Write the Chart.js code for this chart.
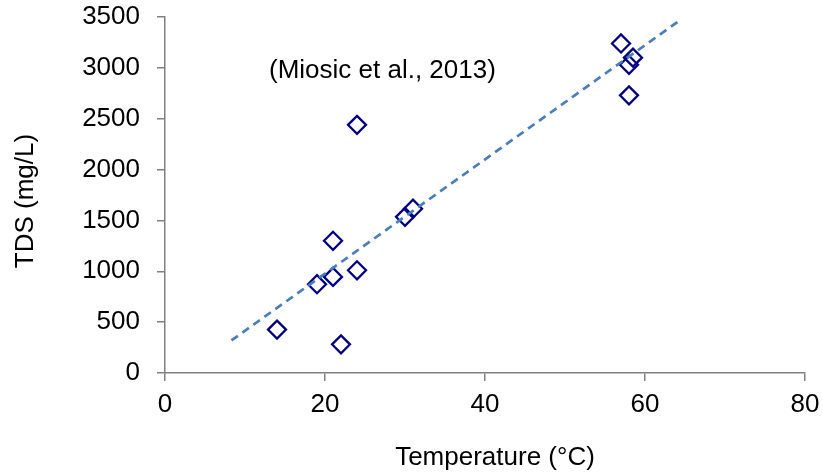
<!DOCTYPE html>
<html>
<head>
<meta charset="utf-8">
<script src="https://cdn.jsdelivr.net/npm/chart.js@4"></script>
<style>
  html, body { margin: 0; padding: 0; background: #fff; }
  #wrap { width: 823px; height: 472px; }
</style>
</head>
<body>
<div id="wrap"><canvas id="myChart" width="823" height="472"></canvas></div>
<script>
// temperature (°C) vs TDS (mg/L) samples
const temperature = [14, 19, 21, 21, 22, 24, 24, 30, 31, 57, 58, 58, 58.5];
const tds = [427, 873, 945, 1300, 282, 1010, 2440, 1535, 1615, 3240, 3030, 2730, 3100];

// linear trend, end points
const trendX = [8.3, 64.4];
const trendY = [320, 3470];

// source note, placed in data units
const noteText = '(Miosic et al., 2013)';
const noteAt = [13, 2900];

const xTitle = 'Temperature (°C)';
const yTitle = 'TDS (mg/L)';

const FONT = '"Liberation Sans", Arial, sans-serif';
const AXIS = '#808080';

const points = temperature.map((t, i) => ({ x: t, y: tds[i] }));
const trend = trendX.map((t, i) => ({ x: t, y: trendY[i] }));

// axis titles + source note
const textPlugin = {
  id: 'texts',
  afterDraw(chart) {
    const c = chart.ctx;
    const sx = chart.scales.x, sy = chart.scales.y;
    c.save();
    c.fillStyle = '#000';
    c.font = '26px ' + FONT;
    c.textBaseline = 'alphabetic';

    c.textAlign = 'left';
    c.fillText(noteText, sx.getPixelForValue(noteAt[0]), sy.getPixelForValue(noteAt[1]));

    c.textAlign = 'center';
    c.fillText(xTitle, 495, 465);

    c.translate(33, 201);
    c.rotate(-Math.PI / 2);
    c.fillText(yTitle, 0, 0);
    c.restore();
  }
};

const plain = (v) => String(v);

const ctx = document.getElementById('myChart').getContext('2d');
const myChart = new Chart(ctx, {
  type: 'scatter',
  data: {
    datasets: [{
      label: 'trend',
      data: trend,
      showLine: true,
      borderColor: '#4a7ebb',
      borderWidth: 2.7,
      borderDash: [8, 5.5],
      pointRadius: 0,
      fill: false
    }, {
      label: 'TDS',
      data: points,
      pointStyle: 'rectRot',
      pointRadius: 9,
      pointBorderWidth: 2.3,
      pointBorderColor: '#000080',
      pointBackgroundColor: 'rgba(0,0,0,0)'
    }]
  },
  options: {
    responsive: false,
    animation: false,
    layout: { padding: { top: 17, right: 18, bottom: 0, left: 0 } },
    plugins: {
      legend: { display: false },
      tooltip: { enabled: false }
    },
    scales: {
      x: {
        type: 'linear',
        min: 0,
        max: 80,
        afterFit(scale) {
          scale.height = 99;
          scale.paddingLeft = 0;
          scale.paddingRight = 0;
        },
        border: { color: AXIS, width: 1.5 },
        grid: { drawOnChartArea: false, drawTicks: true, tickLength: 8, color: AXIS, lineWidth: 1.5 },
        ticks: { stepSize: 20, padding: 8, color: '#000', font: { family: FONT, size: 26 }, callback: plain }
      },
      y: {
        type: 'linear',
        min: 0,
        max: 3500,
        afterFit(scale) {
          scale.width = 165;
          scale.paddingTop = 0;
          scale.paddingBottom = 0;
        },
        border: { color: AXIS, width: 1.5 },
        grid: { drawOnChartArea: false, drawTicks: true, tickLength: 8, color: AXIS, lineWidth: 1.5 },
        ticks: { stepSize: 500, padding: 17, color: '#000', font: { family: FONT, size: 26 }, callback: plain }
      }
    }
  },
  plugins: [textPlugin]
});
</script>
</body>
</html>
